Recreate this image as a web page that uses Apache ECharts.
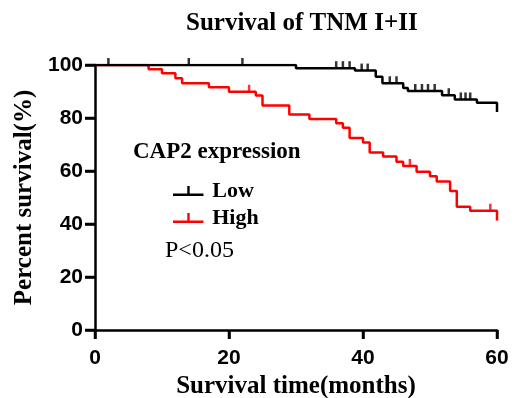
<!DOCTYPE html>
<html>
<head>
<meta charset="utf-8">
<style>
  html, body { margin: 0; padding: 0; background: #fff; }
  #main { width: 515px; height: 398px; }
</style>
<script src="https://cdn.jsdelivr.net/npm/echarts@6/dist/echarts.min.js"></script>
</head>
<body>
<div id="main"></div>
<script>
// 生存曲线数据
var lowTime = [0, 30, 38.8, 41.9, 42.9, 46, 46.7, 51.8, 53.7, 57, 60];
var lowPct = [100, 98.8, 97.9, 95.6, 93.1, 91.3, 90.2, 88.6, 87.0, 85.8, 82.3];
var lowCensor = [2, 14, 22, 36, 37, 38, 39.8, 40.7, 44, 45, 47.8, 48.8, 49.7, 50.7, 52.8, 54.6, 55.3, 56];

var highTime = [0, 8, 10, 12, 13, 17, 20, 24, 25, 29, 32, 36, 37, 38, 40, 41, 43, 45, 46, 48, 50, 51, 53, 54, 56, 60];
var highPct = [100, 98.4, 96.9, 95, 93.1, 91.6, 89.9, 88.5, 84.7, 81.3, 79.6, 78, 76.3, 72.5, 70.8, 67, 65.5, 63.5, 61.9, 59.7, 58, 56, 52.5, 46.5, 45, 41.3];
var highCensor = [23, 47, 59];

var xTicks = [0, 20, 40, 60];
var yTicks = [0, 20, 40, 60, 80, 100];

var serif = 'Liberation Serif';
var sans = 'Liberation Sans';

function pairs(t, v) {
    return t.map(function (x, i) { return [x, v[i]]; });
}
// 删失点的纵坐标取阶梯函数当时的值
function censorPts(t, v, c) {
    return c.map(function (x) {
        var y = v[0];
        for (var i = 0; i < t.length; i++) {
            if (t[i] <= x) y = v[i];
        }
        return [x, y];
    });
}
// 坐标轴外侧刻度线
function tickSeries(data, dx, dy) {
    return {
        type: 'custom',
        silent: true,
        clip: false,
        z: 5,
        data: data,
        renderItem: function (params, api) {
            var p = api.coord([api.value(0), api.value(1)]);
            return {
                type: 'line',
                shape: { x1: p[0], y1: p[1], x2: p[0] + dx, y2: p[1] + dy },
                style: { stroke: '#000', lineWidth: 2.5 }
            };
        }
    };
}

var chart = echarts.init(document.getElementById('main'));
var legendIcon = 'path://M0,8 L32,8 L32,10.5 L0,10.5 Z M15,0 L17.5,0 L17.5,8 L15,8 Z';

var option = {
    animation: false,
    title: {
        text: 'Survival of TNM I+II',
        left: 181,
        top: 6,
        textStyle: { fontFamily: serif, fontWeight: 'bold', fontSize: 25, color: '#000' }
    },
    legend: {
        orient: 'vertical',
        left: 168,
        top: 175,
        itemWidth: 32,
        itemHeight: 10,
        itemGap: 5,
        data: [
            { name: 'Low', icon: legendIcon, itemStyle: { color: '#000' } },
            { name: 'High', icon: legendIcon, itemStyle: { color: '#ff0000' } }
        ],
        textStyle: { fontFamily: serif, fontWeight: 'bold', fontSize: 22, color: '#000', padding: [0, 0, 0, 3] }
    },
    graphic: [
        {
            type: 'text', left: 133, top: 141,
            style: { text: 'CAP2 expression', font: 'bold 23px "Liberation Serif"', fill: '#000' }
        },
        {
            type: 'text', left: 165, top: 239,
            style: { text: 'P<0.05', font: '24px "Liberation Serif"', fill: '#000' }
        }
    ],
    grid: { left: 95, right: 18, top: 65, bottom: 68, outerBoundsMode: 'none' },
    xAxis: {
        type: 'value',
        min: 0, max: 60, interval: 20,
        name: 'Survival time(months)',
        nameLocation: 'middle',
        nameGap: 41,
        nameTextStyle: { fontFamily: serif, fontWeight: 'bold', fontSize: 25, color: '#000' },
        axisLine: { show: true, lineStyle: { color: '#000', width: 2.5 } },
        axisTick: { show: true, length: 9, lineStyle: { color: '#000', width: 2.5 } },
        axisLabel: {
            margin: 18,
            fontFamily: sans, fontWeight: 'bold', fontSize: 21, color: '#000'
        },
        splitLine: { show: false }
    },
    yAxis: {
        type: 'value',
        min: 0, max: 100, interval: 20,
        name: 'Percent survival(%)',
        nameLocation: 'middle',
        nameGap: 54,
        nameTextStyle: { fontFamily: serif, fontWeight: 'bold', fontSize: 25, color: '#000' },
        axisLine: { show: true, lineStyle: { color: '#000', width: 2.5 } },
        axisTick: { show: true, length: 10, lineStyle: { color: '#000', width: 2.5 } },
        axisLabel: {
            margin: 12,
            fontFamily: sans, fontWeight: 'bold', fontSize: 21, color: '#000'
        },
        splitLine: { show: false }
    },
    series: [
        {
            name: 'High',
            type: 'line',
            step: 'end',
            showSymbol: false,
            symbol: 'none',
            data: pairs(highTime, highPct),
            lineStyle: { color: '#ff0000', width: 2.5 },
            itemStyle: { color: '#ff0000' },
            z: 2
        },
        {
            name: 'High censored',
            type: 'scatter',
            symbol: 'rect',
            symbolSize: [2.5, 7],
            symbolOffset: [0, -3.5],
            data: censorPts(highTime, highPct, highCensor),
            itemStyle: { color: '#ff0000' },
            z: 2
        },
        {
            name: 'Low',
            type: 'line',
            step: 'end',
            showSymbol: false,
            symbol: 'none',
            data: pairs(lowTime, lowPct),
            lineStyle: { color: '#000', width: 2.5 },
            itemStyle: { color: '#000' },
            z: 3
        },
        {
            name: 'Low censored',
            type: 'scatter',
            symbol: 'rect',
            symbolSize: [2.5, 7],
            symbolOffset: [0, -3.5],
            data: censorPts(lowTime, lowPct, lowCensor),
            itemStyle: { color: '#000' },
            z: 3
        },
        tickSeries(xTicks.map(function (v) { return [v, 0]; }), 0, 9),
        tickSeries(yTicks.map(function (v) { return [0, v]; }), -10, 0)
    ]
};

chart.setOption(option);
</script>
</body>
</html>
